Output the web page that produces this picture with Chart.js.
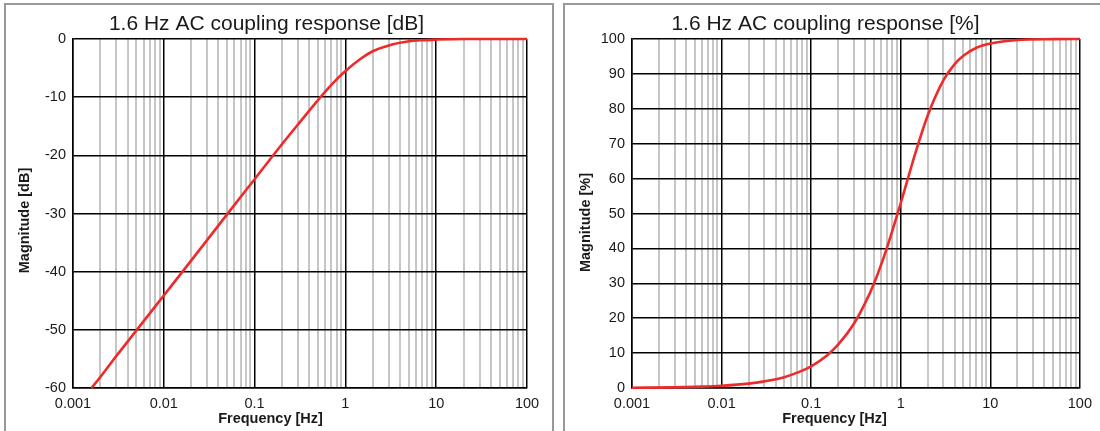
<!DOCTYPE html>
<html>
<head>
<meta charset="utf-8">
<script src="https://cdn.jsdelivr.net/npm/chart.js@4"></script>
<style>
  body { margin: 0; background: #fff; overflow: hidden; }
  .panel { position: absolute; top: 3px; height: 460px; border: 2px solid #999; border-bottom: none; }
  canvas { position: absolute; top: 5px; }
</style>
</head>
<body>
<div class="panel" style="left:4px; width:546px;"></div>
<div class="panel" style="left:563px; width:546px;"></div>
<canvas id="dbChart" width="546" height="426" style="left:6px;"></canvas>
<canvas id="pctChart" width="534" height="426" style="left:565px;"></canvas>
<script>
// frequency axis: decade labels and minor steps inside each decade
const decadeLabels = ['0.001', '0.01', '0.1', '1', '10', '100'];
const minorSteps = [2, 3, 4, 5, 6, 7, 8, 9];

const dbTicks = [0, -10, -20, -30, -40, -50, -60];
const pctTicks = [0, 10, 20, 30, 40, 50, 60, 70, 80, 90, 100];

// magnitude in dB
const freqDb = [0.0016, 0.002, 0.003, 0.005, 0.01, 0.02, 0.05, 0.1, 0.2, 0.3, 0.5, 0.7, 1, 1.5, 2, 3, 5, 7, 10, 20, 50, 100];
const magDb  = [-60, -58.1, -54.5, -50.1, -44.1, -38.1, -30.1, -24.1, -18.1, -14.7, -10.5, -7.9, -5.5, -3.3, -2.1, -1.1, -0.4, -0.2, -0.1, 0, 0, 0];

// magnitude in %
const freqPct = [0.001, 0.003, 0.006, 0.01, 0.02, 0.03, 0.05, 0.07, 0.1, 0.15, 0.2, 0.3, 0.4, 0.5, 0.7, 1, 1.5, 2, 3, 4, 5, 7, 10, 20, 50, 100];
const magPct  = [0.06, 0.19, 0.38, 0.63, 1.25, 1.9, 3.1, 4.4, 6.2, 9.3, 12.4, 18.4, 24.3, 29.8, 40.1, 53, 68.4, 78.1, 88.2, 92.8, 95.2, 97.5, 98.7, 99.7, 99.95, 100];

const FONT = "'Liberation Sans', Arial, sans-serif";
const TEXT = '#1a1a1a';

function isDecade(v) {
  return decadeLabels.some(l => Math.abs(Number(l) - v) < 1e-9 * Math.max(1, v));
}

function freqTickValues() {
  var vals = [];
  decadeLabels.forEach(function(l, i) {
    vals.push(Number(l));
    if (i < decadeLabels.length - 1) {
      minorSteps.forEach(s => vals.push(Number(l) * s));
    }
  });
  return vals;
}

// draws the two axis titles where the original has them
const axisTitles = {
  id: 'axisTitles',
  afterDraw(chart, args, opts) {
    const c = chart.ctx, a = chart.chartArea;
    c.save();
    c.fillStyle = TEXT;
    c.font = 'bold 14.5px ' + FONT;
    c.textAlign = 'center';
    c.textBaseline = 'middle';
    c.fillText(opts.x, a.left + opts.xPos, opts.xY);
    c.translate(opts.yX, (a.top + a.bottom) / 2 + opts.yShift);
    c.rotate(-Math.PI / 2);
    c.fillText(opts.y, 0, 0);
    c.restore();
  }
};

function makeChart(id, title, xs, ys, yTicks, t) {
  const points = xs.map((f, i) => ({x: f, y: ys[i]}));
  return new Chart(document.getElementById(id), {
    type: 'line',
    data: {
      datasets: [{
        data: points,
        borderColor: '#ee2a2a',
        borderWidth: 2.6,
        pointRadius: 0,
        cubicInterpolationMode: 'monotone',
        clip: false
      }]
    },
    options: {
      responsive: false,
      animation: false,
      layout: { padding: { left: 0, right: t.right, top: 0, bottom: 0 } },
      plugins: {
        legend: { display: false },
        tooltip: { enabled: false },
        title: {
          display: true,
          text: title,
          color: TEXT,
          font: { family: FONT, size: 21, weight: 'normal', lineHeight: 1.2 },
          padding: { top: 7, bottom: 1.8 }
        },
        axisTitles: t.titles
      },
      scales: {
        x: {
          type: 'logarithmic',
          min: 0.001,
          max: 100,
          afterBuildTicks: s => { s.ticks = freqTickValues().map(v => ({value: v, major: isDecade(v)})); },
          afterFit: s => { s.height = 43; },
          grid: {
            drawTicks: false,
            color: ctx => isDecade(ctx.tick.value) ? '#000' : '#c6c6c6',
            lineWidth: ctx => isDecade(ctx.tick.value) ? 1.5 : 2
          },
          border: { color: '#000', width: 1.5 },
          ticks: {
            autoSkip: false,
            maxRotation: 0,
            padding: 7,
            color: TEXT,
            font: { family: FONT, size: 14.5 },
            callback: v => {
              const l = decadeLabels.find(l => Math.abs(Number(l) - v) < 1e-9 * Math.max(1, v));
              return l === undefined ? '' : l;
            }
          }
        },
        y: {
          min: yTicks[yTicks.length - 1] < yTicks[0] ? yTicks[yTicks.length - 1] : yTicks[0],
          max: yTicks[yTicks.length - 1] < yTicks[0] ? yTicks[0] : yTicks[yTicks.length - 1],
          afterBuildTicks: s => { s.ticks = yTicks.map(v => ({value: v})); },
          afterFit: s => { s.width = 67; },
          grid: { drawTicks: false, color: '#000', lineWidth: 1.5 },
          border: { color: '#000', width: 1.5 },
          ticks: {
            padding: 7,
            color: TEXT,
            font: { family: FONT, size: 14.5 }
          }
        }
      }
    },
    plugins: [axisTitles]
  });
}

makeChart('dbChart', '1.6 Hz AC coupling response [dB]', freqDb, magDb, dbTicks, {
  right: 25,
  titles: { x: 'Frequency [Hz]', xPos: 197.5, xY: 413.5, y: 'Magnitude [dB]', yX: 19.3, yShift: 7 }
});

makeChart('pctChart', '1.6 Hz AC coupling response [%]', freqPct, magPct, pctTicks, {
  right: 13,
  titles: { x: 'Frequency [Hz]', xPos: 202.5, xY: 413.5, y: 'Magnitude [%]', yX: 21, yShift: 9 }
});
</script>
</body>
</html>
